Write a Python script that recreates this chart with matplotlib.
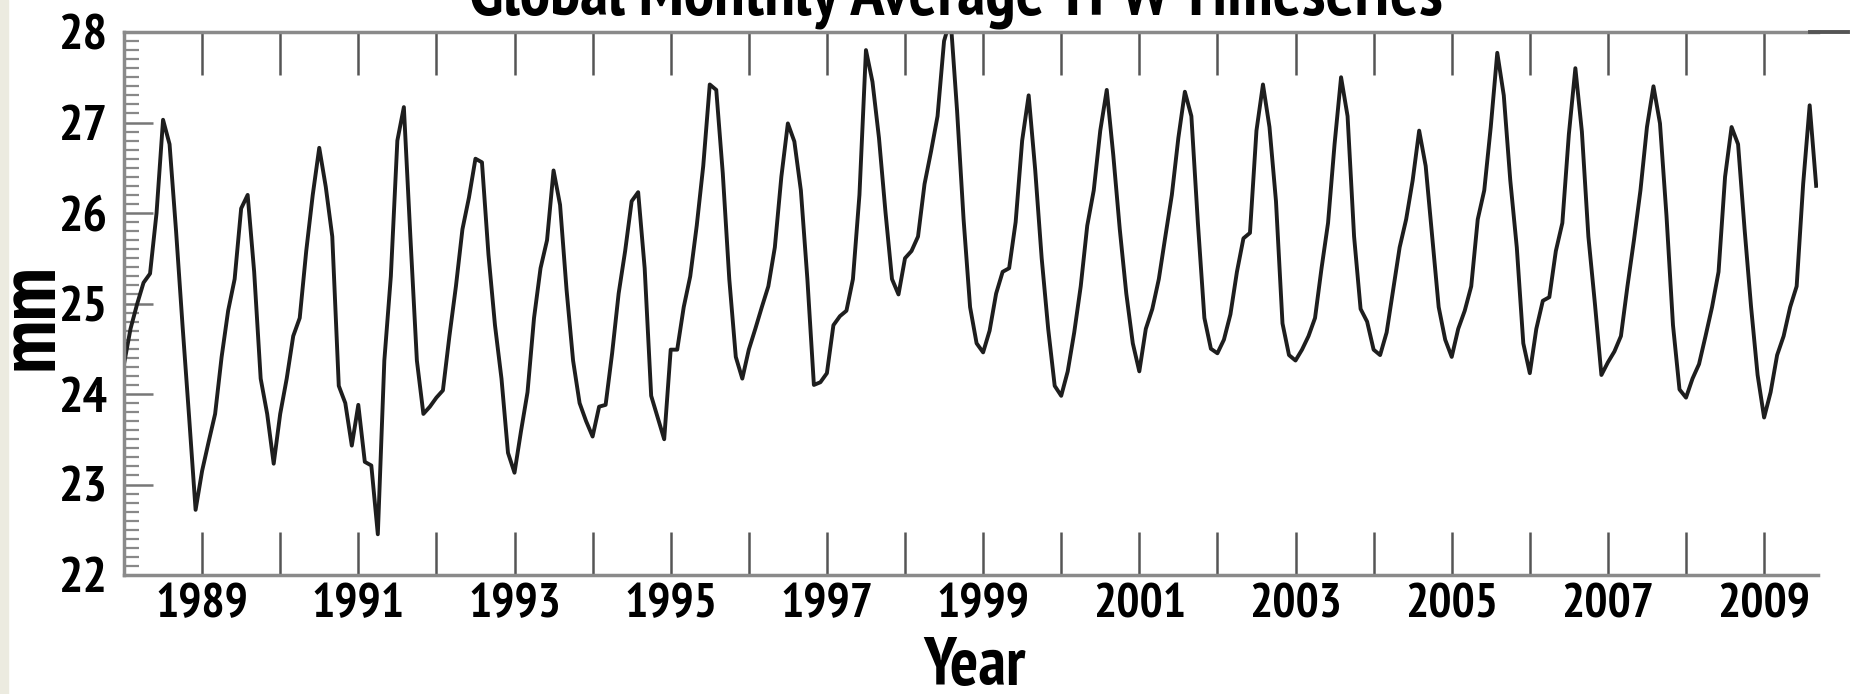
import numpy as np
import matplotlib.pyplot as plt
import matplotlib.font_manager as fm
from matplotlib.ticker import FixedLocator, MultipleLocator
from matplotlib.lines import Line2D
from matplotlib.patches import Rectangle

# monthly global mean TPW (mm), Jan 1988 .. Sep 2009
start_year = 1988
tpw = {
    1988: [24.33, 24.72, 24.99, 25.23, 25.33, 26.00, 27.03, 26.76, 25.80, 24.75, 23.75, 22.72],
    1989: [23.15, 23.47, 23.78, 24.41, 24.92, 25.27, 26.05, 26.20, 25.35, 24.17, 23.78, 23.23],
    1990: [23.78, 24.17, 24.64, 24.84, 25.58, 26.20, 26.72, 26.29, 25.74, 24.09, 23.90, 23.43],
    1991: [23.88, 23.25, 23.21, 22.45, 24.37, 25.30, 26.80, 27.17, 25.74, 24.37, 23.78, 23.86],
    1992: [23.96, 24.04, 24.64, 25.19, 25.82, 26.17, 26.60, 26.56, 25.54, 24.76, 24.17, 23.35],
    1993: [23.13, 23.59, 24.02, 24.84, 25.39, 25.70, 26.47, 26.09, 25.15, 24.37, 23.90, 23.70],
    1994: [23.53, 23.86, 23.88, 24.45, 25.11, 25.58, 26.13, 26.23, 25.39, 23.98, 23.74, 23.50],
    1995: [24.49, 24.49, 24.96, 25.30, 25.86, 26.52, 27.42, 27.36, 26.44, 25.27, 24.41, 24.17],
    1996: [24.49, 24.72, 24.96, 25.19, 25.62, 26.40, 26.99, 26.79, 26.25, 25.27, 24.10, 24.13],
    1997: [24.23, 24.76, 24.86, 24.92, 25.27, 26.20, 27.80, 27.45, 26.83, 26.01, 25.27, 25.10],
    1998: [25.50, 25.58, 25.74, 26.32, 26.68, 27.07, 27.90, 28.15, 27.13, 25.93, 24.96, 24.56],
    1999: [24.46, 24.70, 25.11, 25.35, 25.39, 25.90, 26.80, 27.30, 26.48, 25.50, 24.72, 24.09],
    2000: [23.98, 24.25, 24.68, 25.19, 25.86, 26.25, 26.91, 27.36, 26.64, 25.82, 25.11, 24.56],
    2001: [24.25, 24.72, 24.94, 25.27, 25.74, 26.20, 26.83, 27.34, 27.07, 25.89, 24.84, 24.50],
    2002: [24.45, 24.60, 24.88, 25.35, 25.72, 25.78, 26.91, 27.42, 26.95, 26.13, 24.78, 24.43],
    2003: [24.37, 24.49, 24.64, 24.84, 25.39, 25.89, 26.76, 27.50, 27.07, 25.74, 24.94, 24.80],
    2004: [24.49, 24.43, 24.68, 25.15, 25.62, 25.93, 26.36, 26.91, 26.52, 25.74, 24.96, 24.60],
    2005: [24.41, 24.72, 24.92, 25.19, 25.93, 26.25, 26.95, 27.77, 27.30, 26.36, 25.62, 24.56],
    2006: [24.23, 24.72, 25.03, 25.07, 25.58, 25.89, 26.87, 27.60, 26.90, 25.74, 25.00, 24.21],
    2007: [24.35, 24.47, 24.64, 25.19, 25.70, 26.25, 26.95, 27.40, 26.99, 25.97, 24.76, 24.05],
    2008: [23.96, 24.17, 24.33, 24.64, 24.96, 25.35, 26.40, 26.95, 26.76, 25.82, 24.96, 24.21],
    2009: [23.74, 24.02, 24.43, 24.64, 24.96, 25.19, 26.32, 27.19, 26.30],
}

years_all = list(range(1988, 2010))
label_years = [1989, 1991, 1993, 1995, 1997, 1999, 2001, 2003, 2005, 2007, 2009]

values = np.concatenate([tpw[y] for y in sorted(tpw)])
t = start_year + np.arange(len(values)) / 12.0


# the original uses a narrow bold sans; look for a bold condensed face
def weight_of(f):
    w = f.weight
    if isinstance(w, str):
        w = fm.weight_dict.get(w, 400)
    return w


cands = []
for f in fm.fontManager.ttflist:
    narrowish = ('Narrow' in f.name or 'Condensed' in f.name
                 or f.stretch in ('condensed', 'semi-condensed', 'extra-condensed'))
    if narrowish and weight_of(f) >= 600 and f.style == 'normal':
        cands.append(f)
cands.sort(key=lambda f: (0 if 'Narrow' in f.name else 1, abs(weight_of(f) - 700)))

if cands:
    fpath = cands[0].fname
    scale = 1.0
else:
    fpath = fm.findfont(fm.FontProperties(family='Liberation Sans', weight='bold'))
    scale = 0.86


def fp(size):
    return fm.FontProperties(fname=fpath, size=size * scale)


W, H = 1852, 694
fig = plt.figure(figsize=(W / 100, H / 100), dpi=100)
ax = fig.add_axes([124 / W, 1 - 575 / H, (1818 - 124) / W, (575 - 32) / H])

ax.plot(t, values, color='#1e1e1e', lw=2.8, solid_joinstyle='round')

ax.set_xlim(1988, 2009.69)
ax.set_ylim(22, 28)

# x ticks every year, labels only on odd years
ax.xaxis.set_major_locator(FixedLocator(years_all))
ax.set_xticklabels([str(y) if y in label_years else '' for y in years_all])
ax.tick_params(axis='x', direction='in', length=31, width=1.8, color='#555555',
               top=True, bottom=True, pad=6)

ax.yaxis.set_major_locator(MultipleLocator(1))
ax.yaxis.set_minor_locator(MultipleLocator(0.1))
ax.tick_params(axis='y', which='major', direction='in', length=21, width=1.8,
               color='#777777', pad=12, right=False)
ax.tick_params(axis='y', which='minor', direction='in', length=11, width=1.6,
               color='#888888', right=False)
ax.set_yticks([22, 23, 24, 25, 26, 27, 28])
ax.set_yticklabels(['22', '23', '24', '25', '26', '27', '28'])

for lab in ax.get_xticklabels():
    lab.set_fontproperties(fp(35))
for lab in ax.get_yticklabels():
    lab.set_fontproperties(fp(37))

for side in ['top', 'bottom', 'left']:
    ax.spines[side].set_color('#8a8a8a')
    ax.spines[side].set_linewidth(2.5)
ax.spines['right'].set_visible(False)

# top frame line continues a little past the cropped right edge
fig.add_artist(Line2D([1810 / W, 1848 / W], [1 - 32 / H, 1 - 32 / H],
                      color='#555555', lw=2.8))
# beige strip at the far left
fig.add_artist(Rectangle((0, 0), 8 / W, 1, transform=fig.transFigure,
                         color='#ecebe0', zorder=-1))

fig.text(956 / W, 1 - 15 / H, 'Global Monthly Average TPW Timeseries',
         ha='center', va='baseline', fontproperties=fp(49))
fig.text(975 / W, 1 - 685 / H, 'Year', ha='center', va='baseline',
         fontproperties=fp(48))
fig.text(32 / W, 1 - 316 / H, 'mm', ha='center', va='center', rotation=90,
         fontproperties=fp(58))

fig.savefig('out.png', dpi=100)
